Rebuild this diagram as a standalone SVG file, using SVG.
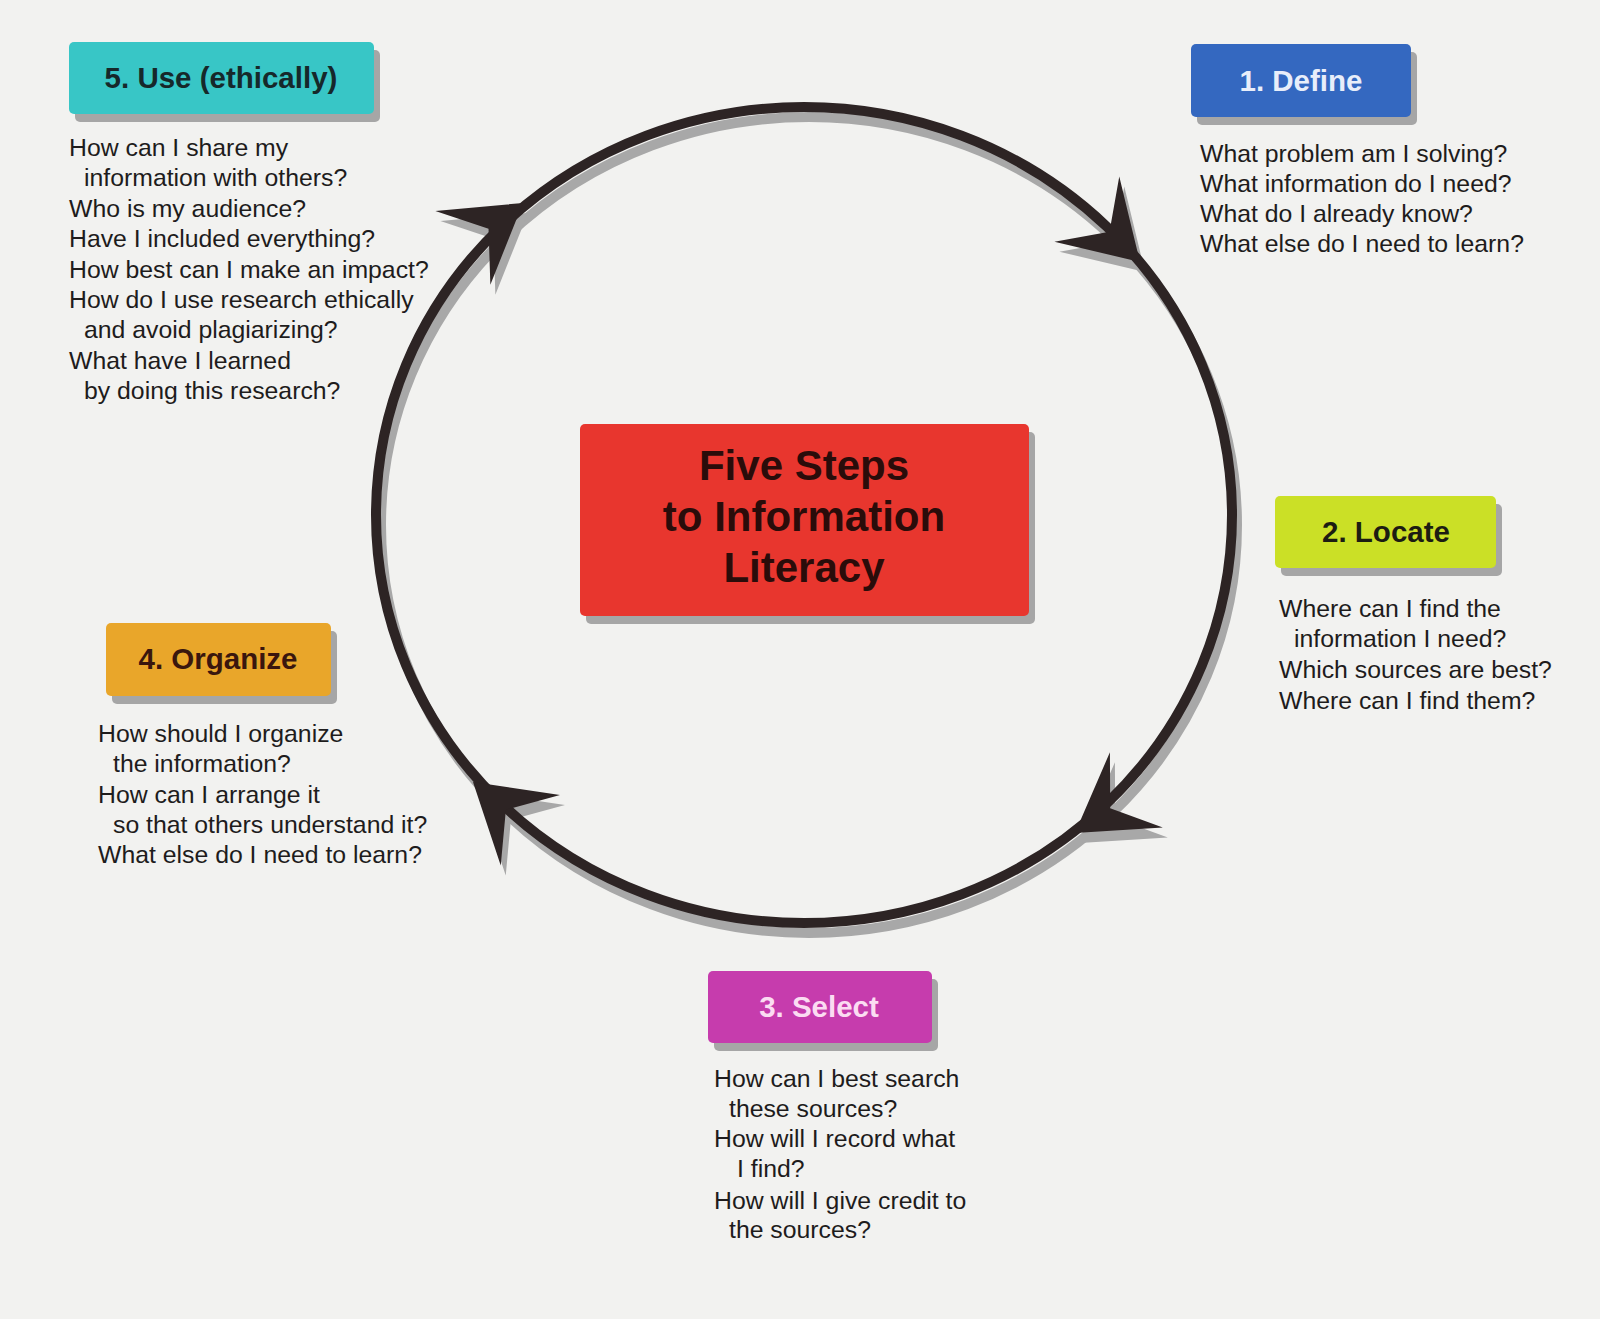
<svg xmlns="http://www.w3.org/2000/svg" xmlns:xlink="http://www.w3.org/1999/xlink" width="1600" height="1319" viewBox="0 0 1600 1319">
<style>
.bg{fill:#f2f2f0}
.shadow{fill:#a6a6a6}
.lbl{font-family:"Liberation Sans",Arial,sans-serif;font-weight:bold;font-size:29.5px;text-anchor:middle}
.body{font-family:"Liberation Sans",Arial,sans-serif;font-size:24.8px;fill:#1e1c1c}
.title{font-family:"Liberation Sans",Arial,sans-serif;font-weight:bold;font-size:42px;text-anchor:middle;fill:#2a0c0a}
.ring{fill:none;stroke:#2d2424;stroke-width:10}
.ringsh{fill:none;stroke:#a8a8a8;stroke-width:10}
.ah{fill:#2d2424}
.ahsh{fill:#a8a8a8}
</style>
<defs>
<path id="ah" d="M0,0 L-75,-46 L-43,0 L-75,46 Z"/>
</defs>
<rect class="bg" x="0" y="0" width="1600" height="1319"/>

<g id="connectors">
  <g transform="translate(5,10)">
    <ellipse class="ringsh" cx="804" cy="515" rx="428" ry="408"/>
    <use href="#ah" class="ahsh" transform="translate(1140,262) rotate(44.85)"/>
    <use href="#ah" class="ahsh" transform="translate(1075,833) rotate(144.9)"/>
    <use href="#ah" class="ahsh" transform="translate(473,782) rotate(220.1)"/>
    <use href="#ah" class="ahsh" transform="translate(523,203) rotate(323.3)"/>
  </g>
  <ellipse class="ring" cx="804" cy="515" rx="428" ry="408"/>
  <use href="#ah" class="ah" transform="translate(1140,262) rotate(44.85)"/>
  <use href="#ah" class="ah" transform="translate(1075,833) rotate(144.9)"/>
  <use href="#ah" class="ah" transform="translate(473,782) rotate(220.1)"/>
  <use href="#ah" class="ah" transform="translate(523,203) rotate(323.3)"/>
</g>

<g id="node-center">
  <rect class="shadow" x="586" y="432" width="449" height="192" rx="5"/>
  <rect x="580" y="424" width="449" height="192" rx="5" fill="#e8362e"/>
  <text class="title" x="804" y="480">Five Steps</text>
  <text class="title" x="804" y="531">to Information</text>
  <text class="title" x="804" y="582">Literacy</text>
</g>

<g id="node-define">
  <rect class="shadow" x="1197" y="52" width="220" height="73" rx="5"/>
  <rect x="1191" y="44" width="220" height="73" rx="5" fill="#3468c0"/>
  <text class="lbl" x="1301" y="91" fill="#e8eefa">1. Define</text>
  <text class="body">
    <tspan x="1200" y="161.5">What problem am I solving?</tspan>
    <tspan x="1200" y="191.5">What information do I need?</tspan>
    <tspan x="1200" y="222">What do I already know?</tspan>
    <tspan x="1200" y="251.5">What else do I need to learn?</tspan>
  </text>
</g>

<g id="node-locate">
  <rect class="shadow" x="1281" y="504" width="221" height="72" rx="5"/>
  <rect x="1275" y="496" width="221" height="72" rx="5" fill="#cbe026"/>
  <text class="lbl" x="1386" y="542" fill="#1c1c12">2. Locate</text>
  <text class="body">
    <tspan x="1279" y="616.5">Where can I find the</tspan>
    <tspan x="1294" y="647">information I need?</tspan>
    <tspan x="1279" y="678">Which sources are best?</tspan>
    <tspan x="1279" y="708.5">Where can I find them?</tspan>
  </text>
</g>

<g id="node-select">
  <rect class="shadow" x="714" y="979" width="224" height="72" rx="5"/>
  <rect x="708" y="971" width="224" height="72" rx="5" fill="#c63cad"/>
  <text class="lbl" x="819" y="1017" fill="#fbdcf2">3. Select</text>
  <text class="body">
    <tspan x="714" y="1087">How can I best search</tspan>
    <tspan x="729" y="1116.5">these sources?</tspan>
    <tspan x="714" y="1147">How will I record what</tspan>
    <tspan x="737" y="1177">I find?</tspan>
    <tspan x="714" y="1208.5">How will I give credit to</tspan>
    <tspan x="729" y="1238">the sources?</tspan>
  </text>
</g>

<g id="node-organize">
  <rect class="shadow" x="112" y="631" width="225" height="73" rx="5"/>
  <rect x="106" y="623" width="225" height="73" rx="5" fill="#e9a62a"/>
  <text class="lbl" x="218" y="669" fill="#3a160e">4. Organize</text>
  <text class="body">
    <tspan x="98" y="742">How should I organize</tspan>
    <tspan x="113" y="772">the information?</tspan>
    <tspan x="98" y="802.5">How can I arrange it</tspan>
    <tspan x="113" y="833">so that others understand it?</tspan>
    <tspan x="98" y="862.5">What else do I need to learn?</tspan>
  </text>
</g>

<g id="node-use">
  <rect class="shadow" x="75" y="50" width="305" height="72" rx="5"/>
  <rect x="69" y="42" width="305" height="72" rx="5" fill="#38c6c6"/>
  <text class="lbl" x="221" y="88" fill="#16282a">5. Use (ethically)</text>
  <text class="body">
    <tspan x="69" y="156">How can I share my</tspan>
    <tspan x="84" y="186.4">information with others?</tspan>
    <tspan x="69" y="216.8">Who is my audience?</tspan>
    <tspan x="69" y="247.2">Have I included everything?</tspan>
    <tspan x="69" y="277.6">How best can I make an impact?</tspan>
    <tspan x="69" y="308">How do I use research ethically</tspan>
    <tspan x="84" y="338.4">and avoid plagiarizing?</tspan>
    <tspan x="69" y="368.8">What have I learned</tspan>
    <tspan x="84" y="399.2">by doing this research?</tspan>
  </text>
</g>
</svg>
